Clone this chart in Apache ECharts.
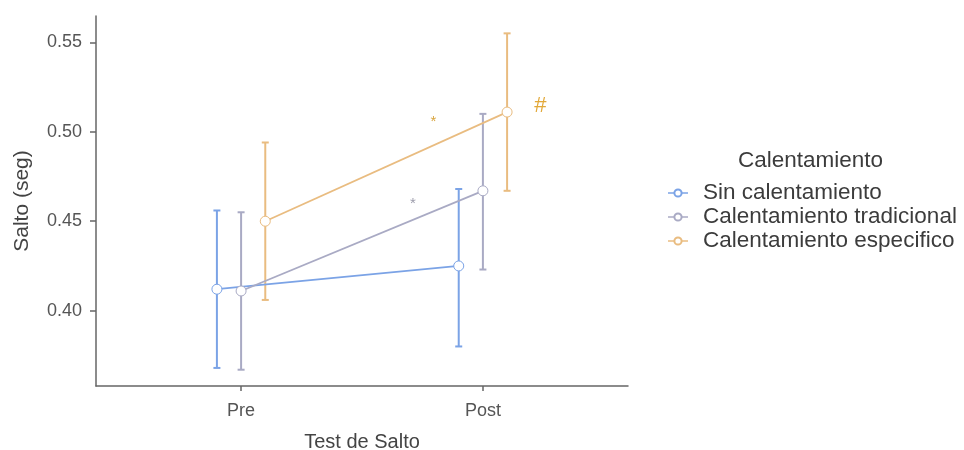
<!DOCTYPE html>
<html>
<head>
<meta charset="utf-8">
<script src="https://cdn.jsdelivr.net/npm/echarts@6/dist/echarts.min.js"></script>
<style>html,body{margin:0;padding:0;background:#fff}#c{width:964px;height:450px}</style>
</head>
<body>
<div id="c"></div>
<script>
const categories = ['Pre', 'Post'];
const groupNames = ['Sin calentamiento', 'Calentamiento tradicional', 'Calentamiento especifico'];
const sinMean = [0.412, 0.425];
const sinLow = [0.368, 0.380];
const sinHigh = [0.456, 0.468];
const tradMean = [0.411, 0.467];
const tradLow = [0.367, 0.423];
const tradHigh = [0.455, 0.510];
const espMean = [0.450, 0.511];
const espLow = [0.406, 0.467];
const espHigh = [0.494, 0.555];
const yTicks = [0.40, 0.45, 0.50, 0.55];
const annotText = ['*', '*', '#'];
const annotX = [1.795, 1.711, 2.238];
const annotY = [0.5058, 0.4596, 0.5146];

const FONT = 'Liberation Sans, Arial, sans-serif';
const colors = ['#7ba3e6', '#a9aac4', '#e9bc80'];
const annotColors = ['#d9a540', '#9c9cab', '#e2a838'];
const annotSizes = [15, 15, 22];
const dodge = [-0.1, 0, 0.1];
const means = [sinMean, tradMean, espMean];
const lows = [sinLow, tradLow, espLow];
const highs = [sinHigh, tradHigh, espHigh];

const series = [];
groupNames.forEach((name, g) => {
  const ebData = categories.map((c, i) => [i + 1 + dodge[g], lows[g][i], highs[g][i]]);
  series.push({
    type: 'custom',
    name: name + ' eb',
    z: 1,
    silent: true,
    data: ebData,
    renderItem: function (params, api) {
      const x = api.value(0);
      const pLo = api.coord([x, api.value(1)]);
      const pHi = api.coord([x, api.value(2)]);
      const hw = 3.5;
      const st = { stroke: colors[g], lineWidth: 2 };
      return {
        type: 'group',
        children: [
          { type: 'line', shape: { x1: pLo[0], y1: pLo[1], x2: pHi[0], y2: pHi[1] }, style: st },
          { type: 'line', shape: { x1: pLo[0] - hw, y1: pLo[1], x2: pLo[0] + hw, y2: pLo[1] }, style: st },
          { type: 'line', shape: { x1: pHi[0] - hw, y1: pHi[1], x2: pHi[0] + hw, y2: pHi[1] }, style: st }
        ]
      };
    }
  });
});
groupNames.forEach((name, g) => {
  series.push({
    type: 'line',
    name: name,
    z: 3,
    data: categories.map((c, i) => [i + 1 + dodge[g], means[g][i]]),
    symbol: 'circle',
    symbolSize: 10,
    showAllSymbol: true,
    lineStyle: { color: colors[g], width: 1.8 },
    itemStyle: { color: '#ffffff', borderColor: colors[g], borderWidth: 1 },
    emphasis: { disabled: true }
  });
});
series.push({
  type: 'custom',
  name: 'annot',
  z: 4,
  silent: true,
  data: annotText.map((t, i) => [annotX[i], annotY[i], i]),
  renderItem: function (params, api) {
    const i = api.value(2);
    const p = api.coord([api.value(0), api.value(1)]);
    return {
      type: 'text',
      x: p[0], y: p[1],
      style: {
        text: annotText[i],
        fill: annotColors[i],
        font: annotSizes[i] + 'px ' + FONT,
        align: 'center',
        verticalAlign: 'middle'
      }
    };
  }
});

const chart = echarts.init(document.getElementById('c'));
chart.setOption({
  animation: false,
  backgroundColor: '#ffffff',
  title: {
    text: 'Calentamiento',
    left: 738,
    top: 149,
    padding: 0,
    textStyle: { fontSize: 22.5, fontWeight: 'normal', color: '#3c3c3c', fontFamily: FONT }
  },
  legend: {
    orient: 'vertical',
    left: 667,
    top: 181,
    padding: 0,
    itemWidth: 20,
    itemHeight: 9,
    itemGap: 0,
    data: groupNames,
    lineStyle: { opacity: 0.75 },
    textStyle: { fontSize: 22.5, color: '#3c3c3c', fontFamily: FONT, lineHeight: 24, padding: [0, 0, 0, 10] }
  },
  grid: { left: 96, right: 336, top: 16, bottom: 64, containLabel: false, outerBoundsMode: 'none' },
  xAxis: {
    type: 'value',
    min: 0.4,
    max: 2.6,
    name: 'Test de Salto',
    nameLocation: 'middle',
    nameGap: 46,
    nameTextStyle: { fontSize: 20, color: '#444', fontFamily: FONT },
    axisLine: { show: true, lineStyle: { color: '#666', width: 1.5 } },
    axisTick: { show: true, length: 5, customValues: [1, 2], lineStyle: { color: '#666', width: 1.5 } },
    axisLabel: {
      customValues: [1, 2],
      formatter: v => categories[Math.round(v) - 1] || '',
      fontSize: 18, color: '#555', fontFamily: FONT, margin: 16
    },
    splitLine: { show: false }
  },
  yAxis: {
    type: 'value',
    min: 0.3579,
    max: 0.5647,
    name: 'Salto (seg)',
    nameLocation: 'middle',
    nameGap: 63,
    nameRotate: 90,
    nameTextStyle: { fontSize: 21, color: '#444', fontFamily: FONT },
    axisLine: { show: true, lineStyle: { color: '#666', width: 1.5 } },
    axisTick: { show: true, length: 6, customValues: yTicks, lineStyle: { color: '#666', width: 1.5 } },
    axisLabel: {
      customValues: yTicks,
      formatter: v => v.toFixed(2),
      fontSize: 18, color: '#555', fontFamily: FONT, margin: 14
    },
    splitLine: { show: false }
  },
  series: series
});
</script>
</body>
</html>
